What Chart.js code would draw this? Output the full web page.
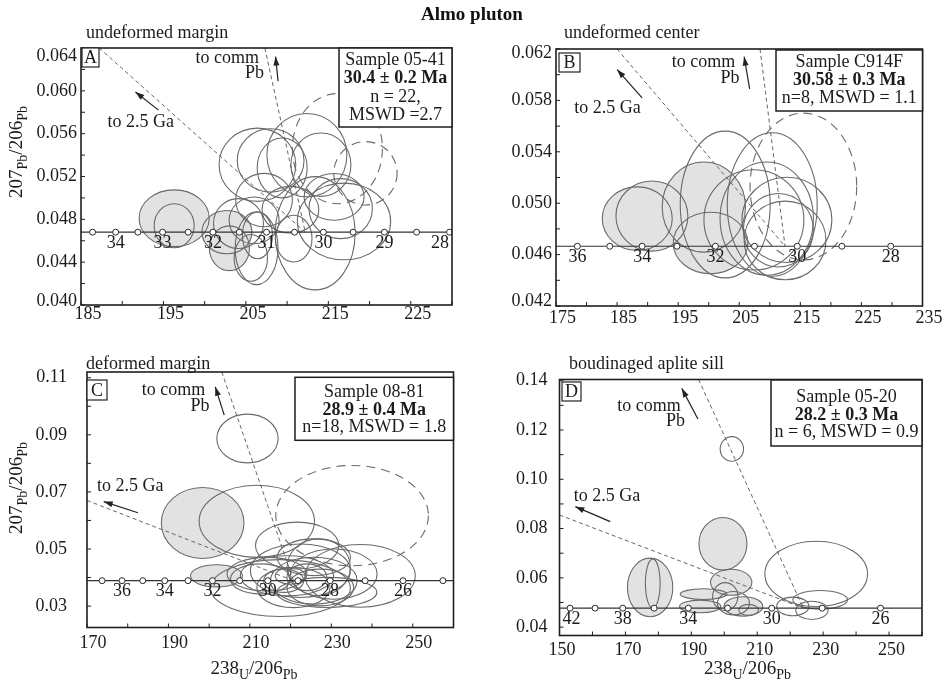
<!DOCTYPE html>
<html>
<head>
<meta charset="utf-8">
<title>Almo pluton</title>
<script src="https://cdn.jsdelivr.net/npm/chart.js@4.4.1/dist/chart.umd.min.js"></script>
<style>
  html, body { margin: 0; padding: 0; background: #ffffff; }
  #page { position: relative; width: 944px; height: 687px; overflow: hidden; background: #fff; }
  #page canvas { position: absolute; }
  #title { position: absolute; left: 0; top: 3px; width: 944px; text-align: center;
           font: bold 19px "Liberation Serif", "Times New Roman", serif; color: #111; line-height: 22px; z-index: 2; }
</style>
</head>
<body>
<div id="page">
  <div id="title">Almo pluton</div>
  <canvas id="cA" width="472" height="340" style="left:0;top:0"></canvas>
  <canvas id="cB" width="472" height="340" style="left:472px;top:0"></canvas>
  <canvas id="cC" width="472" height="347" style="left:0;top:340px"></canvas>
  <canvas id="cD" width="472" height="347" style="left:472px;top:340px"></canvas>
</div>
<script>
// ---------- A: sample 05-41, undeformed margin ----------
const xTicksA = [185, 190, 195, 200, 205, 210, 215, 220, 225, 230];
const xLabelsA = [185, 195, 205, 215, 225];
const yTicksA = [0.040, 0.042, 0.044, 0.046, 0.048, 0.050, 0.052, 0.054, 0.056, 0.058, 0.060, 0.062, 0.064];
const yLabelsA = [0.040, 0.044, 0.048, 0.052, 0.056, 0.060, 0.064];
const concordiaA = 0.0468;
const markerAgesA = [34.5, 34, 33.5, 33, 32.5, 32, 31.5, 31, 30.5, 30, 29.5, 29, 28.5, 28];
const markerXA = [186.4, 189.2, 191.9, 194.9, 198.0, 201.0, 204.2, 207.5, 210.9, 214.4, 218.0, 221.8, 225.7, 229.7];
const agesShownA = [34, 33, 32, 31, 30, 29, 28];
// spot: [238U/206Pb, 207Pb/206Pb, half-axis U/Pb, half-axis Pb/Pb, group]
const spotsA = [
  [196.3, 0.0481, 4.25, 0.00265, 'inh'], [196.3, 0.0474, 2.43, 0.00205, 'inh'],
  [202.7, 0.0468, 3.03, 0.00202, 'inh'], [203.0, 0.0453, 2.43, 0.00209, 'inh'],
  [206.4, 0.0531, 4.65, 0.00342, 'ok'], [208.0, 0.0535, 4.05, 0.00296, 'ok'],
  [212.4, 0.0540, 4.85, 0.00389, 'ok'], [214.1, 0.0531, 3.64, 0.00296, 'ok'],
  [209.4, 0.0528, 3.03, 0.00280, 'ok'], [216.1, 0.0546, 5.46, 0.00514, 'cpb'],
  [219.5, 0.0523, 3.84, 0.00296, 'cpb'], [207.2, 0.0498, 3.44, 0.00249, 'ok'],
  [206.0, 0.0479, 3.03, 0.00218, 'ok'], [206.3, 0.0453, 2.60, 0.00340, 'ok'],
  [206.4, 0.0465, 1.82, 0.00218, 'ok'], [210.4, 0.0489, 3.44, 0.00218, 'ok'],
  [213.4, 0.0467, 4.85, 0.00529, 'ok'], [216.9, 0.0478, 5.66, 0.00358, 'ok'],
  [216.5, 0.0490, 3.84, 0.00280, 'ok'], [210.8, 0.0462, 2.22, 0.00218, 'ok'],
  [215.7, 0.0501, 3.64, 0.00218, 'ok'], [205.6, 0.0444, 2.02, 0.00218, 'ok'],
  [204.1, 0.0476, 3.03, 0.00233, 'ok']
];
const line25GaA = [[187.2, 0.064], [212.2, 0.0468]];
const lineCommA = [[207.3, 0.064], [212.2, 0.0468]];
const arrow25GaA = [[194.4, 0.0582], [191.6, 0.0599]];
const arrowCommA = [[208.9, 0.0609], [208.6, 0.0632]];
const sampleA = ['Sample 05-41', '30.4 \u00b1 0.2 Ma', 'n = 22,', 'MSWD =2.7'];

// ---------- B: sample C914F, undeformed center ----------
const xTicksB = [175, 180, 185, 190, 195, 200, 205, 210, 215, 220, 225, 230, 235];
const xLabelsB = [175, 185, 195, 205, 215, 225, 235];
const yTicksB = [0.042, 0.044, 0.046, 0.048, 0.050, 0.052, 0.054, 0.056, 0.058, 0.060, 0.062];
const yLabelsB = [0.042, 0.046, 0.050, 0.054, 0.058, 0.062];
const concordiaB = 0.04665;
const markerAgesB = [36, 35, 34, 33, 32, 31, 30, 29, 28];
const markerXB = [178.5, 183.8, 189.1, 194.8, 201.1, 207.5, 214.5, 221.8, 229.8];
const agesShownB = [36, 34, 32, 30, 28];
const spotsB = [
  [188.3, 0.0488, 5.73, 0.00247, 'inh'], [190.7, 0.0490, 5.89, 0.00273, 'inh'],
  [199.2, 0.0497, 6.82, 0.00351, 'inh'], [200.3, 0.0469, 6.11, 0.00239, 'inh'],
  [202.7, 0.0499, 7.36, 0.00571, 'ok'], [210.4, 0.0499, 7.36, 0.00558, 'ok'],
  [207.4, 0.0487, 8.18, 0.00390, 'ok'], [209.5, 0.0488, 7.64, 0.00441, 'ok'],
  [212.8, 0.0487, 7.36, 0.00332, 'ok'], [212.5, 0.0471, 6.70, 0.00306, 'ok'],
  [211.4, 0.0479, 5.73, 0.00286, 'ok'], [215.5, 0.0513, 8.73, 0.00571, 'cpb']
];
const line25GaB = [[185.0, 0.062], [212.5, 0.04665]];
const lineCommB = [[208.4, 0.062], [212.5, 0.04665]];
const arrow25GaB = [[189.1, 0.0582], [185.0, 0.0604]];
const arrowCommB = [[206.7, 0.0589], [205.8, 0.0614]];
const sampleB = ['Sample C914F', '30.58 \u00b1 0.3 Ma', 'n=8, MSWD = 1.1'];

// ---------- C: sample 08-81, deformed margin ----------
const xTicksC = [170, 180, 190, 200, 210, 220, 230, 240, 250, 260];
const xLabelsC = [170, 190, 210, 230, 250];
const yTicksC = [0.03, 0.04, 0.05, 0.06, 0.07, 0.08, 0.09, 0.10, 0.11];
const yLabelsC = [0.03, 0.05, 0.07, 0.09, 0.11];
const concordiaC = 0.0389;
const markerAgesC = [37, 36, 35, 34, 33, 32, 31, 30, 29, 28, 27, 26, 25];
const markerXC = [173.7, 178.6, 183.7, 189.1, 194.8, 200.8, 207.5, 214.4, 221.8, 229.7, 238.3, 247.6, 257.4];
const agesShownC = [36, 34, 32, 30, 28, 26];
const spotsC = [
  [209.4, 0.0887, 7.53, 0.00855, 'ok'], [198.4, 0.0591, 10.15, 0.01242, 'inh'],
  [211.7, 0.0597, 14.16, 0.01265, 'ok'], [235.1, 0.0617, 18.74, 0.01757, 'cpb'],
  [221.6, 0.0512, 10.23, 0.00820, 'ok'], [201.8, 0.0406, 6.38, 0.00387, 'inh'],
  [217.5, 0.0363, 17.18, 0.00996, 'ok'], [237.1, 0.0406, 13.50, 0.01100, 'ok'],
  [214.2, 0.0412, 9.82, 0.00586, 'ok'], [219.1, 0.0406, 11.46, 0.00703, 'ok'],
  [222.4, 0.0424, 12.27, 0.00937, 'ok'], [225.7, 0.0389, 10.64, 0.00820, 'ok'],
  [220.7, 0.0365, 9.00, 0.00703, 'ok'], [226.9, 0.0436, 7.77, 0.00996, 'ok'],
  [230.6, 0.0412, 10.64, 0.00878, 'ok'], [224.0, 0.0401, 4.91, 0.00469, 'ok'],
  [218.3, 0.0389, 4.91, 0.00410, 'ok'], [212.6, 0.0395, 7.36, 0.00527, 'ok'],
  [227.3, 0.0365, 8.18, 0.00644, 'ok'], [219.9, 0.0406, 3.68, 0.00293, 'ok'],
  [228.9, 0.0348, 12.27, 0.00527, 'ok'], [225.7, 0.0471, 9.00, 0.00644, 'ok']
];
const line25GaC = [[170.0, 0.0670], [220.7, 0.0389]];
const lineCommC = [[203.1, 0.1120], [220.7, 0.0389]];
const arrow25GaC = [[182.5, 0.0627], [174.1, 0.0666]];
const arrowCommC = [[203.7, 0.0969], [201.5, 0.1068]];
const sampleC = ['Sample 08-81', '28.9 \u00b1 0.4 Ma', 'n=18, MSWD = 1.8'];

// ---------- D: sample 05-20, boudinaged aplite sill ----------
const xTicksD = [150, 160, 170, 180, 190, 200, 210, 220, 230, 240, 250, 260];
const xLabelsD = [150, 170, 190, 210, 230, 250];
const yTicksD = [0.04, 0.05, 0.06, 0.07, 0.08, 0.09, 0.10, 0.11, 0.12, 0.13, 0.14];
const yLabelsD = [0.04, 0.06, 0.08, 0.10, 0.12, 0.14];
const concordiaD = 0.0477;
const markerAgesD = [42, 40, 38, 36, 34, 32, 30, 28, 26];
const markerXD = [153.2, 160.8, 169.2, 178.7, 189.1, 201.0, 214.4, 229.7, 247.4];
const agesShownD = [42, 38, 34, 30, 26];
const spotsD = [
  [202.3, 0.1123, 3.54, 0.00500, 'ok'], [199.6, 0.0738, 7.28, 0.01068, 'inh'],
  [177.5, 0.0561, 6.88, 0.01189, 'inh'], [178.3, 0.0577, 2.23, 0.01000, 'inh'],
  [202.1, 0.0582, 6.27, 0.00527, 'inh'], [193.7, 0.0534, 7.08, 0.00216, 'inh'],
  [192.7, 0.0484, 6.27, 0.00257, 'inh'], [205.8, 0.0484, 5.87, 0.00392, 'inh'],
  [200.3, 0.0524, 3.84, 0.00568, 'ok'], [202.8, 0.0497, 4.86, 0.00473, 'ok'],
  [207.4, 0.0470, 3.00, 0.00223, 'ok'], [227.9, 0.0616, 15.58, 0.01324, 'ok'],
  [229.1, 0.0511, 8.30, 0.00378, 'ok'], [220.8, 0.0484, 4.90, 0.00378, 'ok'],
  [226.6, 0.0468, 4.90, 0.00372, 'ok']
];
const line25GaD = [[150.0, 0.0855], [224.0, 0.0477]];
const lineCommD = [[192.2, 0.1405], [224.0, 0.0477]];
const arrow25GaD = [[165.4, 0.0828], [154.8, 0.0889]];
const arrowCommD = [[192.0, 0.1245], [187.1, 0.1369]];
const sampleD = ['Sample 05-20', '28.2 \u00b1 0.3 Ma', 'n = 6, MSWD = 0.9'];

// ---------- drawing ----------
const FONT = '"Liberation Serif", "Times New Roman", Times, serif';
const INK = '#1b1b1b';
const decor = {};

function traceEllipse(ctx, xs, ys, s) {
  const cx = xs.getPixelForValue(s[0]);
  const cy = ys.getPixelForValue(s[1]);
  const rx = Math.abs(xs.getPixelForValue(s[0] + s[2]) - cx);
  const ry = Math.abs(ys.getPixelForValue(s[1] + s[3]) - cy);
  ctx.beginPath();
  ctx.ellipse(cx, cy, rx, ry, 0, 0, Math.PI * 2);
}

function drawArrow(ctx, x1, y1, x2, y2) {
  ctx.beginPath(); ctx.moveTo(x1, y1); ctx.lineTo(x2, y2); ctx.stroke();
  const ang = Math.atan2(y2 - y1, x2 - x1), L = 9, W = 3;
  const bx = x2 - L * Math.cos(ang), by = y2 - L * Math.sin(ang);
  ctx.beginPath();
  ctx.moveTo(x2, y2);
  ctx.lineTo(bx + W * Math.sin(ang), by - W * Math.cos(ang));
  ctx.lineTo(bx - W * Math.sin(ang), by + W * Math.cos(ang));
  ctx.closePath(); ctx.fill();
}

// isotope ratio label: big mass numbers, smaller lowered element symbols
function drawRatio(ctx, parts, cx, cy, vertical) {
  ctx.save();
  ctx.translate(cx, cy);
  if (vertical) ctx.rotate(-Math.PI / 2);
  const big = '19px ' + FONT, small = '14px ' + FONT;
  let w = 0;
  parts.forEach(p => { ctx.font = p[1] ? small : big; w += ctx.measureText(p[0]).width; });
  let x0 = -w / 2;
  ctx.textAlign = 'left'; ctx.textBaseline = 'alphabetic'; ctx.fillStyle = INK;
  parts.forEach(p => {
    ctx.font = p[1] ? small : big;
    ctx.fillText(p[0], x0, p[1] ? 11 : 6);
    x0 += ctx.measureText(p[0]).width;
  });
  ctx.restore();
}

const panelDecor = {
  id: 'panelDecor',
  beforeDatasetsDraw(chart) {
    const p = decor[chart.canvas.id]; if (!p) return;
    const { ctx, chartArea: a, scales: { x, y } } = chart;
    ctx.save();
    ctx.beginPath(); ctx.rect(a.left, a.top, a.right - a.left, a.bottom - a.top); ctx.clip();
    ctx.fillStyle = '#e2e2e2';
    p.spots.forEach(s => { if (s[4] === 'inh') { traceEllipse(ctx, x, y, s); ctx.fill(); } });
    ctx.strokeStyle = '#6a6a6a'; ctx.lineWidth = 1.1;
    p.spots.forEach(s => {
      ctx.setLineDash(s[4] === 'cpb' ? [9, 6] : []);
      traceEllipse(ctx, x, y, s); ctx.stroke();
    });
    ctx.restore();
  },
  afterDraw(chart) {
    const p = decor[chart.canvas.id]; if (!p) return;
    const { ctx, chartArea: a, scales: { x, y } } = chart;
    ctx.save();
    ctx.setLineDash([]);
    // frame
    ctx.strokeStyle = '#1e1e1e'; ctx.lineWidth = 1.6;
    ctx.strokeRect(a.left, a.top, a.right - a.left, a.bottom - a.top);
    // inward tick marks
    ctx.lineWidth = 1;
    ctx.beginPath();
    p.xTicks.forEach(v => { const px = x.getPixelForValue(v); ctx.moveTo(px, a.bottom); ctx.lineTo(px, a.bottom - 4); });
    p.yTicks.forEach(v => { const py = y.getPixelForValue(v); ctx.moveTo(a.left, py); ctx.lineTo(a.left + 4, py); });
    ctx.stroke();
    // end labels of the ratio axis, kept inside the frame height
    ctx.fillStyle = INK; ctx.font = '18px ' + FONT; ctx.textBaseline = 'middle';
    if (p.edgeNudge) {
      ctx.textAlign = 'right';
      const lo = p.yLabels[0], hi = p.yLabels[p.yLabels.length - 1];
      ctx.fillText(hi.toFixed(p.yDec), a.left - p.yPad, y.getPixelForValue(hi) + p.edgeNudge[0]);
      ctx.fillText(lo.toFixed(p.yDec), a.left - p.yPad, y.getPixelForValue(lo) + p.edgeNudge[1]);
    }
    // age labels along the concordia
    ctx.textAlign = 'center';
    const ly = y.getPixelForValue(p.level) + 11;
    p.markerAges.forEach((age, i) => {
      if (!p.agesShown.includes(age)) return;
      const t = String(age), hw = ctx.measureText(t).width / 2;
      let px = x.getPixelForValue(p.markerX[i]);
      px = Math.min(Math.max(px, a.left + hw + 3), a.right - hw - 3);
      ctx.fillText(t, px, ly);
    });
    // arrows
    ctx.strokeStyle = '#222'; ctx.fillStyle = '#222'; ctx.lineWidth = 1.2;
    [p.arrow25, p.arrowComm].forEach(ar => {
      drawArrow(ctx, x.getPixelForValue(ar[0][0]), y.getPixelForValue(ar[0][1]),
                     x.getPixelForValue(ar[1][0]), y.getPixelForValue(ar[1][1]));
    });
    // arrow notes
    ctx.fillStyle = INK; ctx.font = '18px ' + FONT; ctx.textBaseline = 'middle';
    ctx.textAlign = 'right';
    ctx.fillText('to comm', x.getPixelForValue(p.notes.comm[0]), y.getPixelForValue(p.notes.comm[1]));
    ctx.fillText('Pb', x.getPixelForValue(p.notes.pb[0]), y.getPixelForValue(p.notes.pb[1]));
    ctx.textAlign = 'left';
    ctx.fillText('to 2.5 Ga', x.getPixelForValue(p.notes.ga[0]), y.getPixelForValue(p.notes.ga[1]));
    // panel letter
    const lb = p.letterBox;
    ctx.fillStyle = '#fff'; ctx.fillRect(a.left + lb[0], a.top + lb[1], lb[2], lb[3]);
    ctx.strokeStyle = '#222'; ctx.lineWidth = 1.2;
    ctx.strokeRect(a.left + lb[0], a.top + lb[1], lb[2], lb[3]);
    ctx.fillStyle = INK; ctx.textAlign = 'center';
    ctx.fillText(p.letter, a.left + lb[0] + lb[2] / 2, a.top + lb[1] + lb[3] / 2 + 1);
    // sample box
    const ib = p.infoBox;
    const bx = a.right - ib.w, by = a.top + ib.dy;
    ctx.fillStyle = '#fff'; ctx.fillRect(bx, by, ib.w, ib.h);
    ctx.strokeStyle = '#1e1e1e'; ctx.lineWidth = 1.5; ctx.strokeRect(bx, by, ib.w, ib.h);
    ctx.fillStyle = INK; ctx.textAlign = 'center';
    p.sample.forEach((t, i) => {
      ctx.font = (i === 1 ? 'bold 18px ' : '18px ') + FONT;
      ctx.fillText(t, bx + ib.w / 2, by + ib.lines[i]);
    });
    // subtitle
    ctx.font = '18px ' + FONT; ctx.textAlign = 'left';
    ctx.fillText(p.subtitle, p.subPos[0], p.subPos[1]);
    // axis titles
    if (p.yTitle) drawRatio(ctx, [['207', 0], ['Pb', 1], ['/', 0], ['206', 0], ['Pb', 1]], p.yTitle[0], p.yTitle[1], true);
    if (p.xTitle) drawRatio(ctx, [['238', 0], ['U', 1], ['/', 0], ['206', 0], ['Pb', 1]], p.xTitle[0], p.xTitle[1], false);
    ctx.restore();
  }
};

function near(v, list) { return list.some(t => Math.abs(t - v) < 1e-9); }
const pts = arr => arr.map(q => ({ x: q[0], y: q[1] }));

function buildPanel(p) {
  decor[p.id] = p;
  const refLine = data => ({ data: pts(data), showLine: true, borderColor: '#555', borderWidth: 0.9,
                             borderDash: [4, 3], pointRadius: 0, fill: false });
  const skipEdge = v => p.edgeNudge && (Math.abs(v - p.yLabels[0]) < 1e-9 || Math.abs(v - p.yLabels[p.yLabels.length - 1]) < 1e-9);
  new Chart(document.getElementById(p.id), {
    type: 'scatter',
    data: {
      datasets: [
        { data: p.markerX.map(v => ({ x: v, y: p.level })), pointRadius: 3, pointBackgroundColor: '#fff',
          pointBorderColor: '#2a2a2a', pointBorderWidth: 1, showLine: false },
        { data: [{ x: p.xRange[0], y: p.level }, { x: p.xRange[1], y: p.level }], showLine: true,
          borderColor: '#333', borderWidth: 1.2, pointRadius: 0 },
        refLine(p.line25),
        refLine(p.lineComm)
      ]
    },
    options: {
      responsive: false, animation: false, devicePixelRatio: 1, events: [],
      layout: { padding: p.pad },
      plugins: { legend: { display: false }, tooltip: { enabled: false } },
      scales: {
        x: {
          type: 'linear', min: p.xRange[0], max: p.xRange[1],
          afterBuildTicks: s => { s.ticks = p.xTicks.map(v => ({ value: v })); },
          afterFit: s => { s.height = 30; },
          grid: { display: false, drawTicks: false }, border: { display: false },
          ticks: { autoSkip: false, maxRotation: 0, minRotation: 0, padding: p.xPad, labelOffset: p.xShift,
                   color: INK, font: { family: FONT, size: 18, lineHeight: 1 },
                   callback: v => near(v, p.xLabels) ? String(v) : '' }
        },
        y: {
          type: 'linear', min: p.yRange[0], max: p.yRange[1],
          afterBuildTicks: s => { s.ticks = p.yTicks.map(v => ({ value: v })); },
          afterFit: s => { s.width = 70; },
          grid: { display: false, drawTicks: false }, border: { display: false },
          ticks: { autoSkip: false, padding: p.yPad, color: INK, font: { family: FONT, size: 18 },
                   callback: v => (near(v, p.yLabels) && !skipEdge(v)) ? v.toFixed(p.yDec) : '' }
        }
      }
    },
    plugins: [panelDecor]
  });
}

buildPanel({
  id: 'cA', letter: 'A', subtitle: 'undeformed margin', subPos: [86, 33],
  xRange: [185, 230], yRange: [0.040, 0.064], xTicks: xTicksA, xLabels: xLabelsA, yTicks: yTicksA, yLabels: yLabelsA,
  yDec: 3, pad: { left: 11, top: 48, right: 20, bottom: 5 }, xPad: 0, xShift: 7, yPad: 4, edgeNudge: [8.5, -3.5],
  level: concordiaA, markerAges: markerAgesA, markerX: markerXA, agesShown: agesShownA, spots: spotsA,
  line25: line25GaA, lineComm: lineCommA, arrow25: arrow25GaA, arrowComm: arrowCommA,
  notes: { comm: [206.6, 0.0630], pb: [207.2, 0.0616], ga: [188.2, 0.0571] },
  letterBox: [1, 0, 17, 19], infoBox: { w: 113, h: 79, dy: 0, lines: [12, 30, 49, 67] },
  sample: sampleA, yTitle: [16, 152]
});
buildPanel({
  id: 'cB', letter: 'B', subtitle: 'undeformed center', subPos: [92, 33],
  xRange: [175, 235], yRange: [0.042, 0.062], xTicks: xTicksB, xLabels: xLabelsB, yTicks: yTicksB, yLabels: yLabelsB,
  yDec: 3, pad: { left: 14, top: 49, right: 21.5, bottom: 4 }, xPad: 3, xShift: 6.5, yPad: 4, edgeNudge: [4, -4.5],
  level: concordiaB, markerAges: markerAgesB, markerX: markerXB, agesShown: agesShownB, spots: spotsB,
  line25: line25GaB, lineComm: lineCommB, arrow25: arrow25GaB, arrowComm: arrowCommB,
  notes: { comm: [204.35, 0.0610], pb: [205.06, 0.0597], ga: [178.0, 0.0574] },
  letterBox: [3, 4, 21, 19], infoBox: { w: 146.5, h: 61, dy: 1, lines: [12, 30, 48] },
  sample: sampleB
});
buildPanel({
  id: 'cC', letter: 'C', subtitle: 'deformed margin', subPos: [86, 24],
  xRange: [170, 260], yRange: [0.0225, 0.112], xTicks: xTicksC, xLabels: xLabelsC, yTicks: yTicksC, yLabels: yLabelsC,
  yDec: 2, pad: { left: 17, top: 32, right: 18.5, bottom: 29.5 }, xPad: 7, xShift: 6, yPad: 20,
  level: concordiaC, markerAges: markerAgesC, markerX: markerXC, agesShown: agesShownC, spots: spotsC,
  line25: line25GaC, lineComm: lineCommC, arrow25: arrow25GaC, arrowComm: arrowCommC,
  notes: { comm: [199.05, 0.1056], pb: [200.1, 0.1000], ga: [172.45, 0.0719] },
  letterBox: [0, 8, 20, 20], infoBox: { w: 158.5, h: 63, dy: 5.3, lines: [14.5, 32.7, 50] },
  sample: sampleC, yTitle: [16, 148], xTitle: [254, 328]
});
buildPanel({
  id: 'cD', letter: 'D', subtitle: 'boudinaged aplite sill', subPos: [97, 24],
  xRange: [150, 260], yRange: [0.0366, 0.1405], xTicks: xTicksD, xLabels: xLabelsD, yTicks: yTicksD, yLabels: yLabelsD,
  yDec: 2, pad: { left: 17.5, top: 39.5, right: 22, bottom: 21.5 }, xPad: 6, xShift: 2.5, yPad: 12,
  level: concordiaD, markerAges: markerAgesD, markerX: markerXD, agesShown: agesShownD, spots: spotsD,
  line25: line25GaD, lineComm: lineCommD, arrow25: arrow25GaD, arrowComm: arrowCommD,
  notes: { comm: [186.8, 0.1295], pb: [188.1, 0.1234], ga: [154.3, 0.0930] },
  letterBox: [2.5, 2.5, 19, 19], infoBox: { w: 151, h: 66, dy: 0.5, lines: [17, 35, 52] },
  sample: sampleD, xTitle: [275.5, 328]
});
</script>
</body>
</html>
